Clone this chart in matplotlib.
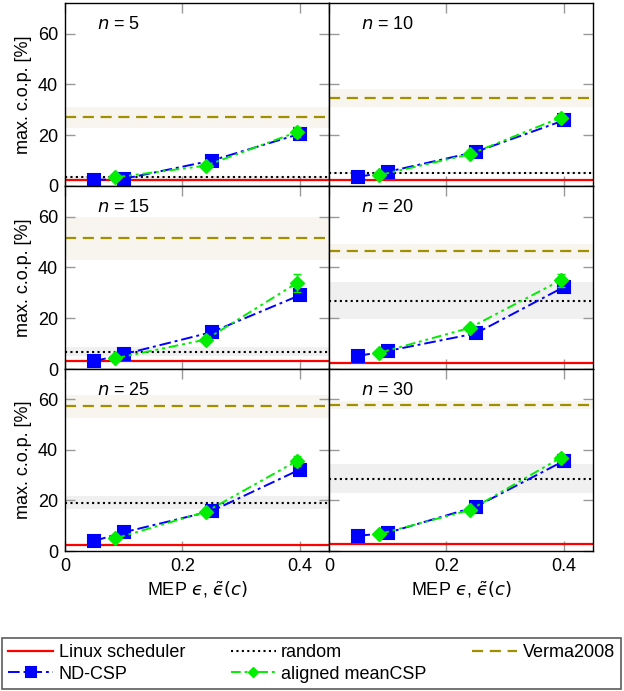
import numpy as np
import matplotlib
matplotlib.use('Agg')
import matplotlib.pyplot as plt

plt.rcParams['font.family'] = ['Liberation Sans', 'DejaVu Sans']
plt.rcParams['mathtext.fontset'] = 'dejavusans'

# data
n_values = [5, 10, 15, 20, 25, 30]
eps_nd = [0.05, 0.1, 0.25, 0.4]
eps_aligned = [0.086, 0.24, 0.395]

nd_csp = [[2.4, 2.8, 10.0, 20.5],
          [3.6, 5.6, 13.4, 25.8],
          [3.1, 5.8, 14.5, 29.0],
          [5.2, 7.1, 14.0, 32.2],
          [4.0, 7.4, 15.8, 32.2],
          [6.0, 7.2, 17.5, 35.6]]
nd_csp_err = [[0.8, 0.8, 1.0, 1.5],
              [0.8, 0.8, 1.0, 1.5],
              [0.8, 0.8, 1.0, 2.0],
              [0.8, 0.8, 1.0, 1.8],
              [0.8, 0.8, 1.0, 1.8],
              [0.8, 0.8, 1.0, 1.5]]
aligned = [[3.4, 8.0, 21.2],
           [4.3, 12.5, 26.9],
           [4.2, 11.6, 33.8],
           [6.4, 16.2, 34.9],
           [5.0, 15.5, 35.6],
           [6.7, 16.2, 36.9]]
aligned_err = [[0.5, 0.8, 2.0],
               [0.5, 0.8, 1.5],
               [0.5, 0.8, 3.7],
               [0.5, 0.8, 2.6],
               [0.5, 0.8, 1.8],
               [0.5, 0.8, 1.5]]

linux = [2.5, 2.4, 3.0, 2.5, 2.4, 2.6]
random_mean = [3.4, 5.2, 6.8, 26.8, 19.1, 28.5]
random_lo = [2.9, 4.7, 5.3, 19.7, 16.5, 22.8]
random_hi = [3.9, 5.7, 8.5, 34.1, 21.7, 34.3]
verma = [27.0, 34.5, 51.6, 46.3, 57.3, 57.7]
verma_lo = [23.0, 31.0, 43.0, 43.4, 52.8, 56.0]
verma_hi = [31.0, 38.0, 60.0, 49.0, 61.7, 59.4]

C_RED = '#ff0000'
C_BLUE = '#0000ff'
C_GREEN = '#00ee00'
C_OLIVE = '#a09000'
FS = 13

fig = plt.figure(figsize=(6.24, 6.91), dpi=100)

W, H = 624.0, 691.0
col_x = [65, 329]
row_y = [(3, 186), (186, 369), (369, 551)]
aw = 264

handles = []
for i, n in enumerate(n_values):
    r, c = divmod(i, 2)
    top, bot = row_y[r]
    ax = fig.add_axes([col_x[c] / W, 1 - bot / H, aw / W, (bot - top) / H])

    ax.axhspan(verma_lo[i], verma_hi[i], color='#f7f5ee', lw=0, zorder=0)
    ax.axhspan(random_lo[i], random_hi[i], color='#f0f0f0', lw=0, zorder=0)

    h1 = ax.axhline(linux[i], color=C_RED, lw=1.6, zorder=2)
    h2 = ax.axhline(random_mean[i], color='black', lw=1.5, ls=(0, (1, 1.6)), zorder=2)
    h3 = ax.axhline(verma[i], color=C_OLIVE, lw=1.6, ls=(0, (5, 3)), zorder=2)

    h4 = ax.errorbar(eps_nd, nd_csp[i], yerr=nd_csp_err[i], color=C_BLUE, lw=1.4,
                     ls=(0, (6, 2, 1.5, 2)), marker='s', ms=9, mew=1.5,
                     capsize=3, elinewidth=1, zorder=3)
    h5 = ax.errorbar(eps_aligned, aligned[i], yerr=aligned_err[i], color=C_GREEN, lw=1.4,
                     ls=(0, (5, 2, 1.5, 2, 1.5, 2)), marker='D', ms=7,
                     capsize=3, elinewidth=1, zorder=4)
    handles = [h1, h4[0], h2, h5[0], h3]

    ax.set_xlim(0, 0.45)
    ax.set_ylim(0, 72)
    ax.set_xticks([0, 0.2, 0.4])
    ax.set_yticks([0, 20, 40, 60])
    ax.tick_params(direction='in', length=7, width=1, color='#999999',
                   top=True, right=True, labelsize=FS, pad=5)
    for s in ax.spines.values():
        s.set_color('black')
        s.set_linewidth(1)

    if c == 0:
        ax.set_ylabel('max. c.o.p. [%]', fontsize=FS, labelpad=4)
    else:
        ax.set_yticklabels([])
    if r == 2:
        ax.set_xticklabels(['0', '0.2', '0.4'])
        ax.set_xlabel('MEP $\u03f5$, $\\tilde{\u03f5}(c)$', fontsize=FS, labelpad=3)
    else:
        ax.set_xticklabels([])

    ax.text(0.12, 0.88, r'$n$ = %d' % n, transform=ax.transAxes,
            fontsize=FS, va='center', ha='left')

labels = ['Linux scheduler', 'ND-CSP', 'random', 'aligned meanCSP', 'Verma2008']
leg = fig.legend(handles, labels, ncol=3, loc='lower left',
                 bbox_to_anchor=(2 / W, 1 - 689 / H, 619 / W, 57 / H), mode='expand',
                 fontsize=FS, frameon=True, fancybox=False, edgecolor='#333333',
                 handlelength=2.5, handletextpad=0.3, borderaxespad=0,
                 labelspacing=0.25, borderpad=0.35, markerscale=0.8)
leg.get_frame().set_linewidth(1.2)

fig.savefig('out.png', dpi=100)
